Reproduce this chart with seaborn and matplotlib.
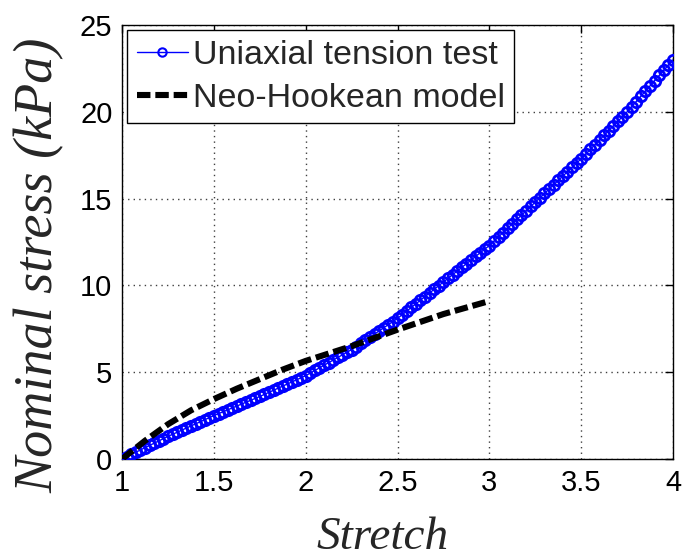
import matplotlib
matplotlib.use("Agg")
import matplotlib.pyplot as plt
import seaborn as sns
import pandas as pd

# ---- data ----
test_stretch = [
    1.000, 1.025, 1.050, 1.075, 1.100, 1.125, 1.150, 1.175, 1.200, 1.225,
    1.250, 1.275, 1.300, 1.325, 1.350, 1.375, 1.400, 1.425, 1.450, 1.475,
    1.500, 1.525, 1.550, 1.575, 1.600, 1.625, 1.650, 1.675, 1.700, 1.725,
    1.750, 1.775, 1.800, 1.825, 1.850, 1.875, 1.900, 1.925, 1.950, 1.975,
    2.000, 2.025, 2.050, 2.075, 2.100, 2.125, 2.150, 2.175, 2.200, 2.225,
    2.250, 2.275, 2.300, 2.325, 2.350, 2.375, 2.400, 2.425, 2.450, 2.475,
    2.500, 2.525, 2.550, 2.575, 2.600, 2.625, 2.650, 2.675, 2.700, 2.725,
    2.750, 2.775, 2.800, 2.825, 2.850, 2.875, 2.900, 2.925, 2.950, 2.975,
    3.000, 3.025, 3.050, 3.075, 3.100, 3.125, 3.150, 3.175, 3.200, 3.225,
    3.250, 3.275, 3.300, 3.325, 3.350, 3.375, 3.400, 3.425, 3.450, 3.475,
    3.500, 3.525, 3.550, 3.575, 3.600, 3.625, 3.650, 3.675, 3.700, 3.725,
    3.750, 3.775, 3.800, 3.825, 3.850, 3.875, 3.900, 3.925, 3.950, 3.975,
    4.000,
]
test_stress = [
    0.00, 0.13, 0.26, 0.39, 0.52, 0.65, 0.78, 0.91, 1.04, 1.17,
    1.30, 1.42, 1.54, 1.66, 1.78, 1.90, 2.02, 2.14, 2.26, 2.38,
    2.50, 2.61, 2.72, 2.83, 2.94, 3.05, 3.16, 3.27, 3.38, 3.49,
    3.60, 3.72, 3.84, 3.96, 4.08, 4.20, 4.32, 4.44, 4.56, 4.68,
    4.80, 4.95, 5.10, 5.25, 5.40, 5.55, 5.70, 5.85, 6.00, 6.15,
    6.30, 6.48, 6.66, 6.84, 7.02, 7.20, 7.38, 7.56, 7.74, 7.92,
    8.10, 8.31, 8.52, 8.73, 8.94, 9.15, 9.36, 9.57, 9.78, 9.99,
    10.20, 10.41, 10.62, 10.83, 11.04, 11.25, 11.46, 11.67, 11.88, 12.09,
    12.30, 12.55, 12.80, 13.05, 13.30, 13.55, 13.80, 14.05, 14.30, 14.55,
    14.80, 15.05, 15.30, 15.55, 15.80, 16.05, 16.30, 16.55, 16.80, 17.05,
    17.30, 17.57, 17.84, 18.11, 18.38, 18.65, 18.92, 19.19, 19.46, 19.73,
    20.00, 20.30, 20.60, 20.90, 21.20, 21.50, 21.80, 22.10, 22.40, 22.70,
    23.00,
]
model_stretch = [1.00, 1.125, 1.25, 1.375, 1.50, 1.625, 1.75, 1.875, 2.00,
                 2.25, 2.50, 2.75, 3.00]
model_stress = [0.00, 1.05, 2.00, 2.80, 3.45, 4.05, 4.60, 5.15, 5.65,
                6.50, 7.45, 8.35, 9.10]

x_ticks = [1, 1.5, 2, 2.5, 3, 3.5, 4]
x_tick_labels = ["1", "1.5", "2", "2.5", "3", "3.5", "4"]
y_ticks = [0, 5, 10, 15, 20, 25]
y_tick_labels = ["0", "5", "10", "15", "20", "25"]

label_test = "Uniaxial tension test"
label_model = "Neo-Hookean model"

df_test = pd.DataFrame({"stretch": test_stretch, "stress": test_stress})
df_model = pd.DataFrame({"stretch": model_stretch, "stress": model_stress})

# ---- figure ----
sns.set_style("white")
plt.rcParams["font.family"] = ["Liberation Sans", "DejaVu Sans"]

fig = plt.figure(figsize=(6.86, 5.59), dpi=100)
ax = fig.add_axes([0.178, 0.179, 0.803, 0.776])

sns.lineplot(data=df_test, x="stretch", y="stress", ax=ax, sort=False,
             estimator=None, color="blue", lw=1.0, marker="o", markersize=7.5,
             markerfacecolor="none", markeredgecolor="blue",
             markeredgewidth=2.0, label=label_test, zorder=3)
sns.lineplot(data=df_model, x="stretch", y="stress", ax=ax, sort=False,
             estimator=None, color="black", lw=4.4, label=label_model, zorder=4)
ax.lines[-1].set_dashes((2.2, 0.8))

ax.set_xlim(1, 4)
ax.set_ylim(0, 25)
ax.set_xticks(x_ticks)
ax.set_xticklabels(x_tick_labels)
ax.set_yticks(y_ticks)
ax.set_yticklabels(y_tick_labels)
ax.tick_params(direction="in", length=6, width=1, top=True, right=True,
               labelsize=21, colors="black", pad=7)

ax.grid(True, color="0.25", linestyle=(0, (1, 3)), linewidth=1.0)
for s in ax.spines.values():
    s.set_visible(True)
    s.set_color("black")
    s.set_linewidth(1.0)

ax.set_xlabel("Stretch", family="Liberation Serif", style="italic",
              fontsize=34)
ax.xaxis.set_label_coords(0.472, -0.132)
ax.set_ylabel("Nominal stress (kPa)", family="Liberation Serif",
              style="italic", fontsize=39)
ax.yaxis.set_label_coords(-0.105, 0.447)

leg = ax.legend(loc="upper left", fancybox=False, edgecolor="black",
                framealpha=1, numpoints=1, handlelength=1.5,
                handletextpad=0.15, fontsize=24.5, borderaxespad=0.15,
                borderpad=0.28, labelspacing=0.35)
leg.get_frame().set_linewidth(1.0)
h0 = leg.legend_handles[0]
h0.set_markersize(6)
h0.set_markeredgewidth(1.5)

fig.savefig("out.png", dpi=100)
